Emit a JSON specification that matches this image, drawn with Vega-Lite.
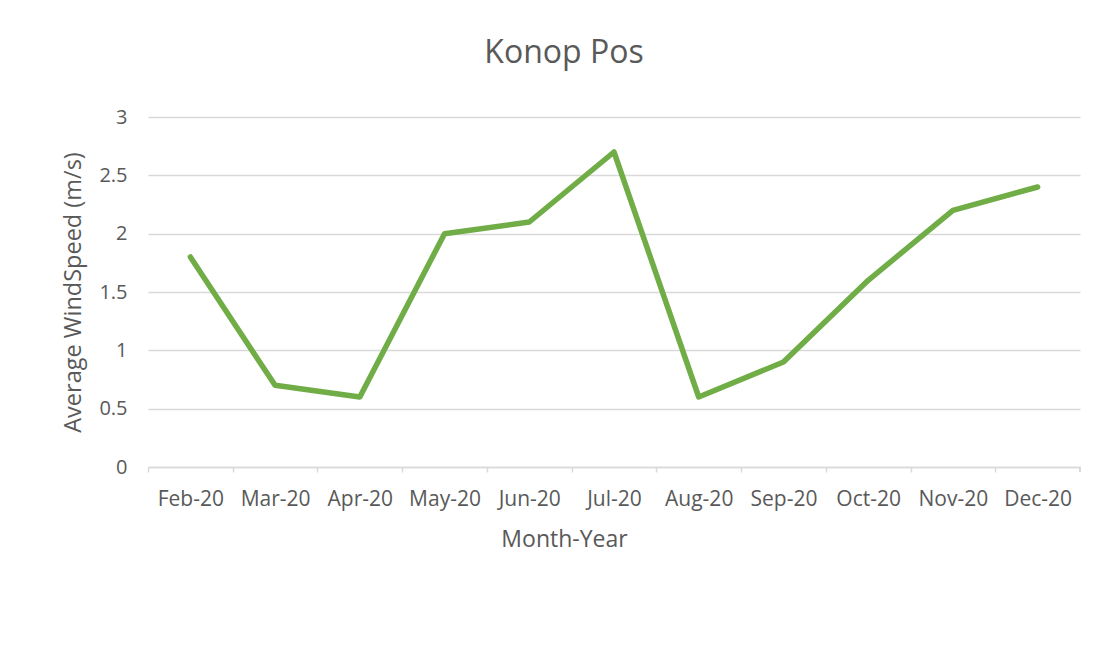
{
  "$schema": "https://vega.github.io/schema/vega-lite/v6.json",
  "autosize": "none",
  "width": 932,
  "height": 350,
  "padding": {"left": 148, "top": 117, "right": 29, "bottom": 178},
  "background": "white",
  "config": {
    "font": "Open Sans",
    "view": {"stroke": null}
  },
  "title": {
    "text": "Konop Pos",
    "fontSize": 32,
    "fontWeight": "normal",
    "color": "#595959",
    "baseline": "alphabetic",
    "offset": 12,
    "dx": -50
  },
  "data": {
    "values": [
      {"month": "Feb-20", "speed": 1.8},
      {"month": "Mar-20", "speed": 0.7},
      {"month": "Apr-20", "speed": 0.6},
      {"month": "May-20", "speed": 2.0},
      {"month": "Jun-20", "speed": 2.1},
      {"month": "Jul-20", "speed": 2.7},
      {"month": "Aug-20", "speed": 0.6},
      {"month": "Sep-20", "speed": 0.9},
      {"month": "Oct-20", "speed": 1.6},
      {"month": "Nov-20", "speed": 2.2},
      {"month": "Dec-20", "speed": 2.4}
    ]
  },
  "layer": [
    {
      "mark": {"type": "line", "color": "#70AD47", "strokeWidth": 5.5, "strokeCap": "round", "strokeJoin": "round"},
      "encoding": {
        "x": {
          "field": "month",
          "type": "ordinal",
          "sort": null,
          "scale": {"type": "band", "paddingInner": 0, "paddingOuter": 0},
          "axis": {
            "title": "Month-Year",
            "titleFontSize": 23,
            "titleFontWeight": "normal",
            "titleColor": "#595959",
            "titleX": 416,
            "titleY": 79,
            "titleBaseline": "alphabetic",
            "tickOffset": -42.36,
            "labelOffset": 42.36,
            "labelAngle": 0,
            "labelFontSize": 21,
            "labelColor": "#595959",
            "labelBaseline": "alphabetic",
            "labelPadding": 33,
            "tickSize": 5,
            "tickColor": "#d9d9d9",
            "tickWidth": 1.5,
            "domainColor": "#d9d9d9",
            "domainWidth": 1.5,
            "grid": false
          }
        },
        "y": {
          "field": "speed",
          "type": "quantitative",
          "scale": {"domain": [0, 3]},
          "axis": {
            "title": "Average WindSpeed (m/s)",
            "titleFontSize": 23.5,
            "titleFontWeight": "normal",
            "titleColor": "#595959",
            "titleAngle": -90,
            "titleX": -75,
            "titleY": 175,
            "titleBaseline": "middle",
            "titleAlign": "center",
            "values": [0, 0.5, 1, 1.5, 2, 2.5, 3],
            "format": "~g",
            "labelFontSize": 20,
            "labelColor": "#595959",
            "labelPadding": 21,
            "labelFlush": false,
            "domain": false,
            "ticks": false,
            "grid": true,
            "gridColor": "#d9d9d9",
            "gridWidth": 1.5
          }
        }
      }
    },
    {
      "mark": {"type": "rule", "color": "#d9d9d9", "strokeWidth": 1.5},
      "encoding": {
        "x": {"datum": "Dec-20", "bandPosition": 1},
        "y": {"datum": 0},
        "y2": {"datum": -0.043}
      }
    }
  ]
}
